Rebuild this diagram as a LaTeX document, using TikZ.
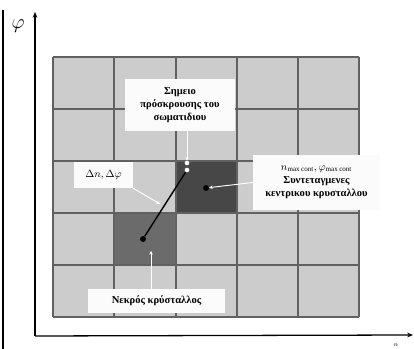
\documentclass[tikz,border=0pt]{standalone}
\usepackage{fontspec}
\setmainfont{Liberation Serif}
\usetikzlibrary{arrows.meta}

\tikzset{
  cell/.style={fill=gray!40},
  deadcell/.style={fill=black!58},
  hitcell/.style={fill=black!72},
  gridline/.style={draw=black!62,line width=1pt},
  infobox/.style={
    fill=white!97!gray, rectangle, inner sep=1pt,
    align=center, font=\fontsize{9}{11}\selectfont\bfseries
  },
  wdot/.style={circle,fill=white,inner sep=0pt,minimum size=4pt},
  bdot/.style={circle,fill=black,inner sep=0pt,minimum size=5pt},
  pointer/.style={draw=white,line width=0.8pt,-{Stealth[length=3pt,width=3pt]}},
}

\begin{document}
\begin{tikzpicture}[x=0.03cm,y=-0.03cm]
\useasboundingbox (0,0) rectangle (414,349);

% grid of crystals
\fill[cell] (53,57) rectangle (359,317);
\fill[hitcell] (176,161) rectangle (237,213);
\fill[deadcell] (114,213) rectangle (176,265);
\foreach \x in {53,114,176,237,298,359}
  \draw[gridline] (\x,57) -- (\x,317);
\foreach \y in {57,109,161,213,265,317}
  \draw[gridline] (53,\y) -- (359,\y);

% axes
\coordinate (O) at (35,336);
\coordinate (ytip) at (35,12);
\coordinate (xtip) at (413,335);
\draw[line width=1.1pt,-{Stealth[length=5pt,width=4pt]}] (O) -- (ytip);
\draw[line width=1.1pt,-{Stealth[length=5pt,width=4pt]}] (O) -- (xtip);
\node (philab) at (18,26) {\LARGE$\varphi$};
\node (nlab) at (396,345) {\fontsize{5}{6}\selectfont$n$};

% left border
\coordinate (frametop) at (3,10);
\coordinate (framebot) at (3,349);
\draw[line width=1.4pt] (frametop) -- (framebot);

% points
\node[wdot] (impact) at (187,163) {};
\node[wdot] (trk) at (187,170) {};
\node[bdot] (deadpt) at (143,239) {};
\node[bdot] (centerpt) at (206,188) {};
\coordinate (dntip) at (160,204);
\coordinate (deadtip) at (151,251);
\draw[line width=1.2pt] (trk) -- (deadpt);

% labels
\node[infobox,minimum width=3.3cm,minimum height=1.56cm] (impactbox) at (180,105)
  {Σημειο\\πρόσκρουσης του\\σωματιδιου};
\node[infobox,minimum width=1.77cm,minimum height=0.78cm] (dnbox) at (103.5,175)
  {$\Delta n,\Delta\varphi$};
\node[infobox,minimum width=3.81cm,minimum height=1.65cm] (centerbox) at (316.5,182.5)
  {$n_{\mathrm{max\,cont}},\varphi_{\mathrm{max\,cont}}$\\Συντεταγμενες\\κεντρικου κρυσταλλου};
\node[infobox,minimum width=4.11cm,minimum height=0.72cm] (deadbox) at (156.5,301)
  {Νεκρός κρύσταλλος};

\draw[pointer] (impactbox.south -| impact) -- (impact);
\draw[pointer] (centerbox.west) -- (centerpt);
\draw[pointer] (dnbox.south east) -- (dntip);
\draw[pointer] (deadbox.north -| deadtip) -- (deadtip);

\end{tikzpicture}
\end{document}
